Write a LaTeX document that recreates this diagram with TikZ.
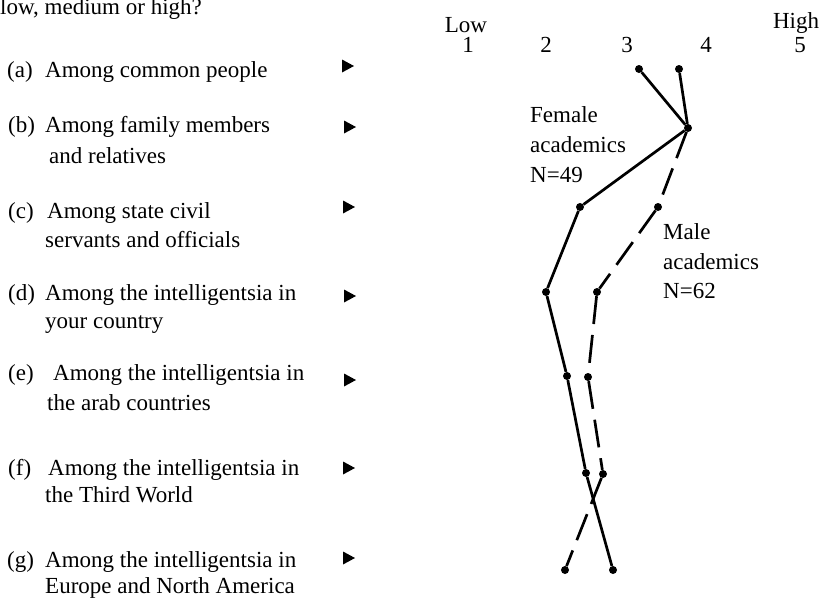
\documentclass[tikz,border=0pt]{standalone}
\usepackage{fontspec}
\setmainfont{Liberation Serif}
\usetikzlibrary{positioning}

\begin{document}
\begin{tikzpicture}[x=1pt,y=-1pt,
  every node/.style={inner sep=0pt,font=\fontsize{23}{28}\selectfont},
  item/.style={anchor=base west},
  axis/.style={anchor=base},
  point/.style={fill,circle,minimum size=8pt},
  female/.style={line width=2.7pt},
  male/.style={line width=2.7pt,dash pattern=on 28pt off 11pt}]
\useasboundingbox (0,0) rectangle (823,600);

% question items
\node[item] (title) at (0,14) {low, medium or high?};
\node[item] (la) at (7,77) {(a)};
\node[item] (ta) at (45,77) {Among common people};
\node[item] (lb) at (8,132) {(b)};
\node[item] (tb) at (45,132) {Among family members};
\node[item] (tb2) at (49,163) {and relatives};
\node[item] (lc) at (8,218) {(c)};
\node[item] (tc) at (47,218) {Among state civil};
\node[item] (tc2) at (45,247) {servants and officials};
\node[item] (ld) at (8,300) {(d)};
\node[item] (td) at (45,300) {Among the intelligentsia in};
\node[item] (td2) at (45,328) {your country};
\node[item] (le) at (8,380) {(e)};
\node[item] (te) at (53,380) {Among the intelligentsia in};
\node[item] (te2) at (47,410) {the arab countries};
\node[item] (lf) at (8,475) {(f)};
\node[item] (tf) at (48,475) {Among the intelligentsia in};
\node[item] (tf2) at (45,502) {the Third World};
\node[item] (lg) at (7,567) {(g)};
\node[item] (tg) at (45,567) {Among the intelligentsia in};
\node[item] (tg2) at (45,593) {Europe and North America};
\foreach \x/\y in {342/66,344/127,343/207,344/296,344/380,343/468,343/558}
  \fill (\x,\y-6.5) -- (\x+12,\y) -- (\x,\y+6.5) -- cycle;

% scale
\node[axis] (low) at (466,32) {Low};
\node[axis] (high) at (796,28) {High};
\foreach \x/\n in {468/1,546/2,627/3,706/4,800/5}
  \node[axis] (n\n) at (\x,52) {\n};

% female academics
\node[point] (fa) at (639,69) {};
\node[point] (fb) at (688,128) {};
\node[point] (fc) at (580,207) {};
\node[point] (fd) at (546,292) {};
\node[point] (fe) at (567,376) {};
\node[point] (ff) at (586,473) {};
\node[point] (fg) at (613,570) {};
\draw[female] (fa) -- (fb) -- (fc) -- (fd) -- (fe) -- (ff) -- (fg);

% male academics
\node[point] (ma) at (679,69) {};
\node[point] (mc) at (658,207) {};
\node[point] (md) at (597,292) {};
\node[point] (me) at (588,377) {};
\node[point] (mf) at (603,474) {};
\node[point] (mg) at (565,570) {};
\draw[female] (ma) -- (fb);
\draw[male] (fb) -- (mc) -- (md) -- (me) -- (mf) -- (mg);

\node[item] (fem1) at (530,122) {Female};
\node[item] (fem2) at (530,152) {academics};
\node[item] (fem3) at (530,182) {N=49};
\node[item] (mal1) at (663,239) {Male};
\node[item] (mal2) at (663,269) {academics};
\node[item] (mal3) at (663,298) {N=62};
\end{tikzpicture}
\end{document}
